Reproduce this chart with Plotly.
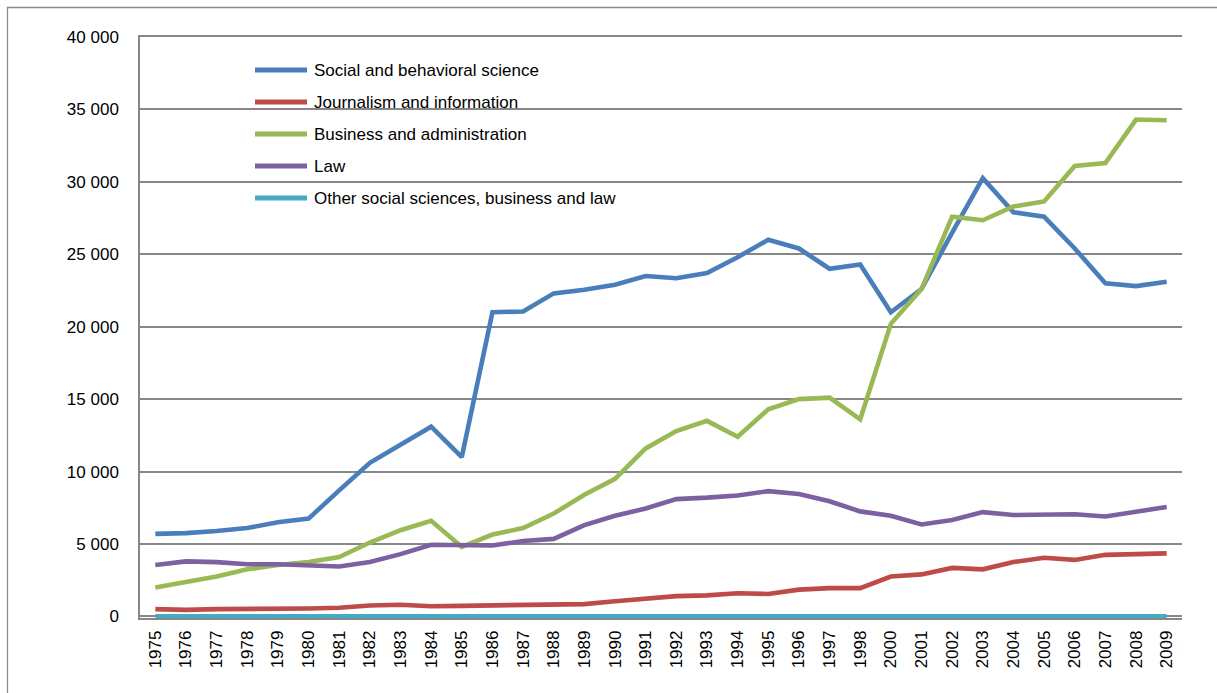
import plotly.graph_objects as go

# Graduates by field, 1975-2009 (no 1999 observation)
years = [str(y) for y in range(1975, 1999)] + [str(y) for y in range(2000, 2010)]

social_behavioral = [5700, 5750, 5900, 6100, 6500, 6750, 8700, 10600, 11850, 13100,
                     11000, 21000, 21050, 22300, 22550, 22900, 23500, 23350, 23700, 24800,
                     26000, 25400, 24000, 24300, 21000, 22600, 26500, 30250, 27900, 27600,
                     25400, 23000, 22800, 23100]
journalism = [500, 450, 500, 500, 520, 550, 600, 750, 800, 700,
              730, 760, 750, 780, 850, 1050, 1200, 1400, 1450, 1600,
              1550, 1850, 1950, 1950, 2750, 2900, 3350, 3250, 3750, 4050,
              3900, 4250, 4300, 4350]
business = [2000, 2350, 2750, 3250, 3550, 3750, 4100, 5100, 5950, 6600,
            4800, 5650, 6100, 7100, 8400, 9500, 11600, 12800, 13500, 12400,
            14300, 15000, 15100, 13600, 20200, 22600, 27600, 27350, 28300, 28650,
            31100, 31300, 34300, 34250]
law = [3550, 3800, 3750, 3600, 3600, 3550, 3450, 3750, 4300, 4950,
       4950, 4900, 5200, 5350, 6300, 6950, 7450, 8100, 8200, 8350,
       8650, 8450, 7950, 7250, 6950, 6350, 6650, 7200, 7000, 7000,
       7050, 6900, 7200, 7550]
other = [0] * len(years)

series_names = ["Social and behavioral science", "Journalism and information",
                "Business and administration", "Law",
                "Other social sciences, business and law"]
series_values = [social_behavioral, journalism, business, law, other]
series_colors = ["#4A7EBB", "#BE4B48", "#98B954", "#7D60A0", "#46AAC5"]

y_ticks = list(range(0, 40001, 5000))
y_min, y_max = -110, 40000

W, H = 1217, 693
L, R, T = 140, 35, 37
zero_px = 616
B = round(H - (zero_px + (zero_px - T) * (-y_min) / y_max), 2)
plot_w, plot_h = W - L - R, H - T - B


def px_to_paper(px, py):
    return (px - L) / plot_w, (H - B - py) / plot_h


fig = go.Figure()
for name, vals, col in zip(series_names, series_values, series_colors):
    fig.add_trace(go.Scatter(x=years, y=vals, name=name, mode="lines",
                             line=dict(color=col, width=4.6),
                             showlegend=False))

shapes = []
annotations = []

# outer chart frame
fx0, fy0 = px_to_paper(7.5, 7.5)
fx1, fy1 = px_to_paper(1240, 720)
shapes.append(dict(type="rect", xref="paper", yref="paper",
                   x0=fx0, y0=fy1, x1=fx1, y1=fy0,
                   line=dict(color="#8c8c8c", width=1.3), layer="below"))

# hand-drawn legend block
for i, (name, col) in enumerate(zip(series_names, series_colors)):
    cy = 70 + 32 * i
    x0, y = px_to_paper(255, cy)
    x1, _ = px_to_paper(307, cy)
    tx, _ = px_to_paper(312, cy)
    shapes.append(dict(type="line", xref="paper", yref="paper",
                       x0=x0, x1=x1, y0=y, y1=y,
                       line=dict(color=col, width=5)))
    annotations.append(dict(xref="paper", yref="paper", x=tx, y=y,
                            text=name, showarrow=False,
                            xanchor="left", yanchor="middle",
                            font=dict(size=17, color="#000000")))

fig.update_layout(
    width=W, height=H,
    margin=dict(l=L, r=R, t=T, b=B),
    paper_bgcolor="white", plot_bgcolor="white",
    font=dict(family="Liberation Sans, Arial, sans-serif", size=17, color="#000000"),
    separators=". ",
    shapes=shapes,
    annotations=annotations,
    xaxis=dict(type="category", categoryorder="array", categoryarray=years,
               range=[-0.5, len(years) - 0.5],
               showgrid=False, showline=True, mirror=True,
               linecolor="#868686", linewidth=1.5,
               ticks="", tickangle=-90, tickfont=dict(size=17),
               ticklabelstandoff=4),
    yaxis=dict(range=[y_min, y_max], tickvals=y_ticks, tickformat=",d",
               showgrid=True, gridcolor="#868686", gridwidth=1.5,
               showline=True, linecolor="#868686", linewidth=1.5,
               zeroline=False, ticks="", tickfont=dict(size=17),
               ticklabelstandoff=16),
)

fig.write_html("out.html")
